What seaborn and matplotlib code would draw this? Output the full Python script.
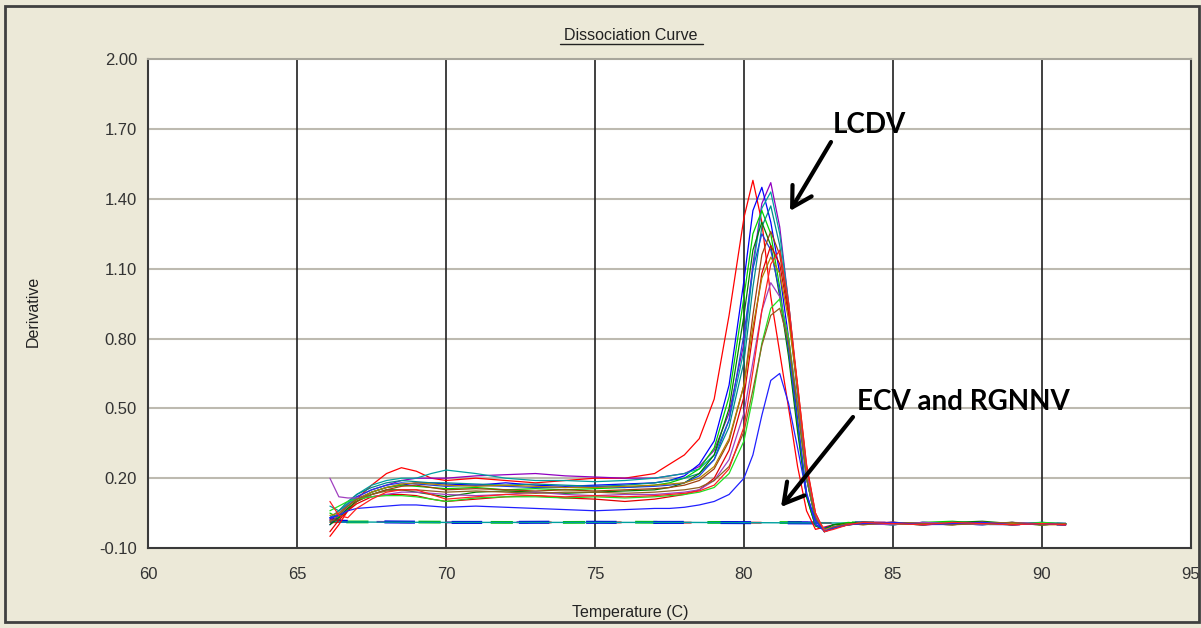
import numpy as np
import pandas as pd
import matplotlib
matplotlib.use("Agg")
import matplotlib.pyplot as plt
from matplotlib.lines import Line2D
from matplotlib.patches import Rectangle
import seaborn as sns

# ---------------- data ----------------
temps = [66.1, 66.4, 66.7, 67.0, 67.5, 68.0, 68.5, 69.0, 69.5, 70.0, 71.0, 72.0, 73.0, 74.0,
         75.0, 76.0, 77.0, 77.5, 78.0, 78.5, 79.0, 79.5, 80.0, 80.3, 80.6, 80.9, 81.2, 81.5,
         81.8, 82.1, 82.4, 82.7, 83.0, 83.5, 84.0, 85.0, 86.0, 87.0, 88.0, 89.0, 90.0, 90.8]

lcdv_red1 = [-0.05, 0.0, 0.06, 0.11, 0.17, 0.22, 0.245, 0.23, 0.2, 0.19, 0.2, 0.19, 0.18, 0.19, 0.2, 0.2, 0.22,
             0.26, 0.3, 0.37, 0.54, 0.9, 1.32, 1.48, 1.3, 0.98, 0.74, 0.5, 0.25, 0.06, -0.02, -0.01, 0.0,
             0.005, 0.01, 0.01, 0.005, 0.0, 0.01, 0.0, 0.005, 0.0]
lcdv_purple1 = [0.02, 0.05, 0.09, 0.12, 0.15, 0.17, 0.19, 0.2, 0.2, 0.2, 0.21, 0.215, 0.22, 0.21, 0.205, 0.2, 0.2,
                0.21, 0.22, 0.25, 0.32, 0.48, 0.78, 1.12, 1.38, 1.47, 1.28, 0.95, 0.58, 0.2, 0.02, -0.025, -0.01,
                0.0, 0.005, 0.01, 0.0, 0.005, 0.01, 0.0, 0.005, 0.0]
lcdv_blue1 = [0.0, 0.04, 0.08, 0.11, 0.14, 0.16, 0.17, 0.18, 0.18, 0.175, 0.17, 0.18, 0.17, 0.165, 0.17, 0.175, 0.18,
              0.19, 0.21, 0.26, 0.36, 0.6, 1.05, 1.35, 1.45, 1.3, 1.08, 0.8, 0.45, 0.13, 0.0, -0.015, 0.0,
              0.005, 0.01, 0.0, 0.01, 0.005, 0.0, 0.01, 0.0, 0.005]
lcdv_teal1 = [0.08, 0.06, 0.09, 0.13, 0.17, 0.19, 0.2, 0.2, 0.22, 0.235, 0.22, 0.2, 0.19, 0.19, 0.185, 0.19, 0.2,
              0.21, 0.22, 0.24, 0.3, 0.45, 0.75, 1.1, 1.36, 1.43, 1.25, 0.95, 0.58, 0.2, 0.02, -0.02, -0.01,
              0.0, 0.005, 0.01, 0.005, 0.0, 0.01, 0.005, 0.0, 0.005]
lcdv_green1 = [0.05, 0.03, 0.07, 0.1, 0.14, 0.16, 0.17, 0.165, 0.16, 0.155, 0.16, 0.15, 0.155, 0.15, 0.155, 0.16, 0.17,
               0.18, 0.2, 0.24, 0.33, 0.55, 0.98, 1.25, 1.35, 1.25, 1.02, 0.74, 0.42, 0.12, -0.005, -0.02, 0.0,
               0.01, 0.005, 0.0, 0.01, 0.015, 0.005, 0.01, 0.0, 0.005]
lcdv_teal2 = [0.03, 0.06, 0.1, 0.13, 0.16, 0.18, 0.19, 0.185, 0.18, 0.18, 0.175, 0.17, 0.175, 0.17, 0.165, 0.17, 0.18,
              0.19, 0.2, 0.22, 0.28, 0.42, 0.7, 1.02, 1.28, 1.37, 1.2, 0.92, 0.56, 0.2, 0.02, -0.02, -0.01,
              0.0, 0.005, 0.0, 0.01, 0.005, 0.0, 0.005, 0.01, 0.0]
lcdv_green2 = [0.0, 0.03, 0.07, 0.1, 0.13, 0.15, 0.15, 0.14, 0.13, 0.12, 0.14, 0.145, 0.14, 0.135, 0.14, 0.145, 0.15,
               0.16, 0.18, 0.22, 0.3, 0.5, 0.9, 1.18, 1.3, 1.2, 0.98, 0.72, 0.4, 0.12, -0.005, -0.02, 0.0,
               0.005, 0.01, 0.005, 0.0, 0.01, 0.015, 0.005, 0.0, 0.005]
lcdv_blue2 = [0.03, 0.04, 0.08, 0.12, 0.15, 0.17, 0.18, 0.175, 0.17, 0.165, 0.17, 0.165, 0.16, 0.16, 0.165, 0.16, 0.165,
              0.17, 0.18, 0.21, 0.28, 0.45, 0.82, 1.1, 1.25, 1.18, 1.0, 0.75, 0.44, 0.14, 0.0, -0.025, -0.01,
              0.0, 0.01, 0.005, 0.0, 0.01, 0.005, 0.0, 0.01, 0.005]
lcdv_brown1 = [0.02, 0.02, 0.06, 0.1, 0.13, 0.15, 0.165, 0.17, 0.16, 0.15, 0.155, 0.15, 0.145, 0.15, 0.145, 0.15, 0.155,
               0.16, 0.17, 0.19, 0.24, 0.36, 0.6, 0.9, 1.16, 1.26, 1.16, 0.92, 0.58, 0.22, 0.03, -0.025, -0.01,
               0.0, 0.005, 0.01, 0.0, 0.005, 0.01, 0.005, 0.0, 0.005]
lcdv_red2 = [-0.03, 0.02, 0.06, 0.09, 0.12, 0.13, 0.13, 0.125, 0.11, 0.1, 0.11, 0.12, 0.125, 0.115, 0.11, 0.1, 0.11,
             0.12, 0.13, 0.15, 0.2, 0.32, 0.55, 0.82, 1.08, 1.2, 1.12, 0.9, 0.6, 0.26, 0.05, -0.03, -0.015,
             0.0, 0.01, 0.005, 0.0, 0.005, 0.01, 0.0, 0.005, 0.0]
lcdv_olive = [0.04, 0.05, 0.08, 0.11, 0.14, 0.16, 0.175, 0.18, 0.175, 0.17, 0.165, 0.17, 0.165, 0.16, 0.16, 0.165, 0.17,
              0.175, 0.18, 0.2, 0.25, 0.37, 0.6, 0.85, 1.06, 1.15, 1.08, 0.88, 0.58, 0.24, 0.04, -0.02, -0.01,
              0.005, 0.0, 0.01, 0.005, 0.0, 0.01, 0.005, 0.0, 0.0]
lcdv_purple2 = [0.2, 0.12, 0.115, 0.115, 0.12, 0.13, 0.14, 0.14, 0.135, 0.13, 0.125, 0.13, 0.14, 0.13, 0.125, 0.13, 0.13,
                0.135, 0.14, 0.15, 0.19, 0.28, 0.48, 0.7, 0.92, 1.04, 0.98, 0.8, 0.52, 0.22, 0.04, -0.025, -0.01,
                0.0, 0.005, 0.0, 0.01, 0.005, 0.0, 0.01, 0.005, 0.0]
lcdv_green3 = [0.06, 0.08, 0.1, 0.11, 0.12, 0.125, 0.125, 0.12, 0.11, 0.1, 0.115, 0.12, 0.12, 0.115, 0.12, 0.115, 0.12,
               0.125, 0.13, 0.14, 0.16, 0.22, 0.36, 0.55, 0.78, 0.93, 0.97, 0.8, 0.5, 0.2, 0.03, -0.03, -0.015,
               0.0, 0.01, 0.005, 0.0, 0.01, 0.005, 0.0, 0.01, 0.005]
lcdv_brown2 = [0.01, 0.04, 0.08, 0.11, 0.13, 0.145, 0.15, 0.15, 0.145, 0.14, 0.145, 0.14, 0.135, 0.14, 0.14, 0.135, 0.14,
               0.145, 0.15, 0.16, 0.19, 0.25, 0.4, 0.58, 0.77, 0.9, 0.93, 0.78, 0.5, 0.2, 0.03, -0.03, -0.01,
               0.005, 0.0, 0.01, 0.005, 0.0, 0.005, 0.01, 0.0, 0.005]
lcdv_blue3 = [0.03, 0.04, 0.06, 0.07, 0.075, 0.08, 0.085, 0.085, 0.08, 0.075, 0.08, 0.075, 0.07, 0.065, 0.06, 0.065, 0.07,
              0.07, 0.075, 0.085, 0.1, 0.13, 0.2, 0.3, 0.47, 0.62, 0.65, 0.52, 0.33, 0.13, 0.02, -0.03, -0.015,
              0.0, 0.005, 0.01, 0.0, 0.005, 0.01, 0.0, 0.005, 0.0]
lcdv_red3 = [0.1, 0.04, 0.03, 0.07, 0.11, 0.14, 0.15, 0.15, 0.13, 0.11, 0.12, 0.13, 0.125, 0.12, 0.125, 0.12, 0.125,
             0.13, 0.135, 0.145, 0.17, 0.24, 0.42, 0.66, 0.92, 1.12, 1.18, 0.95, 0.6, 0.25, 0.05, -0.03, -0.02,
             0.0, 0.01, 0.005, 0.0, 0.01, 0.005, 0.0, 0.005, 0.0]

lcdv_series = [lcdv_red1, lcdv_purple1, lcdv_blue1, lcdv_teal1, lcdv_green1, lcdv_teal2, lcdv_green2,
               lcdv_blue2, lcdv_brown1, lcdv_red2, lcdv_olive, lcdv_purple2, lcdv_green3, lcdv_brown2,
               lcdv_blue3, lcdv_red3]
lcdv_colors = ["#FF0000", "#9000C0", "#0000FF", "#00A0A0", "#00D000", "#008C8C", "#008000",
               "#2040E0", "#A04010", "#E00000", "#B08000", "#A040C0", "#20E020", "#906020",
               "#2020FF", "#FF2020"]

# negative samples (ECV, RGNNV, NTC) - flat traces
flat_temps = [66.1, 66.5, 68.0, 70.0, 72.0, 74.0, 76.0, 78.0, 80.0, 82.0, 84.0, 86.0, 88.0, 90.0, 90.8]
flat_red = [0.01, 0.012, 0.011, 0.011, 0.01, 0.01, 0.01, 0.009, 0.009, 0.008, 0.007, 0.006, 0.005, 0.004, 0.003]
flat_purple = [0.012, 0.013, 0.012, 0.01, 0.011, 0.01, 0.01, 0.011, 0.01, 0.009, 0.007, 0.006, 0.004, 0.003, 0.002]
flat_green = [0.0, 0.012, 0.012, 0.011, 0.01, 0.01, 0.011, 0.01, 0.01, 0.009, 0.008, 0.006, 0.005, 0.004, 0.003]
flat_blue = [0.03, 0.015, 0.012, 0.01, 0.01, 0.011, 0.01, 0.01, 0.009, 0.008, 0.007, 0.005, 0.005, 0.004, 0.002]
flat_teal = [0.015, 0.012, 0.011, 0.01, 0.01, 0.01, 0.01, 0.01, 0.009, 0.008, 0.007, 0.006, 0.005, 0.004, 0.003]
flat_series = [flat_red, flat_purple, flat_green, flat_blue, flat_teal]
flat_colors = ["#D02020", "#9000C0", "#00C000", "#0000E0", "#00A0A0"]

x_ticks = [60, 65, 70, 75, 80, 85, 90, 95]
y_ticks = [-0.10, 0.20, 0.50, 0.80, 1.10, 1.40, 1.70, 2.00]

# ---------------- style ----------------
sns.set_style("white")
plt.rcParams["font.family"] = ["Liberation Sans", "DejaVu Sans"]

BG = "#ECE9D8"
W, H = 1201, 628
fig = plt.figure(figsize=(W / 100, H / 100), dpi=100, facecolor=BG)

left, right, top, bottom = 148.2, 1190.8, 59.3, 548.0
ax = fig.add_axes([left / W, (H - bottom) / H, (right - left) / W, (bottom - top) / H])
ax.set_facecolor("white")

# grid
for yv in y_ticks[1:-1]:
    ax.axhline(yv, color="#BDBAB0", lw=1.5, zorder=1)
for xv in x_ticks[1:-1]:
    ax.axvline(xv, color="#202020", lw=1.2, zorder=1)

# negative traces
flat_styles = [((0, (6, 30)), 1.4), ((12, (6, 30)), 1.4), ((20, (8, 18)), 2.0),
               ((4, (10, 12)), 2.2), ("-", 1.0)]
for vals, col, (ls, lw) in zip(flat_series, flat_colors, flat_styles):
    sns.lineplot(x=flat_temps, y=vals, color=col, lw=lw, ax=ax, zorder=2, linestyle=ls)

# LCDV traces
for vals, col in zip(lcdv_series, lcdv_colors):
    sns.lineplot(x=temps, y=vals, color=col, lw=0.9, ax=ax, zorder=3)

ax.set_xlim(60, 95)
ax.set_ylim(-0.10, 2.00)
ax.set_xticks(x_ticks)
ax.set_xticklabels([str(v) for v in x_ticks])
ax.set_yticks(y_ticks)
ax.set_yticklabels([f"{v:.2f}" for v in y_ticks])
ax.tick_params(axis="both", length=0, labelsize=12, colors="#333333")
ax.tick_params(axis="x", pad=14)
ax.tick_params(axis="y", pad=8)
ax.set_xlabel("")
ax.set_ylabel("")
for side in ["left", "bottom", "right"]:
    ax.spines[side].set_color("#3A3A3A")
    ax.spines[side].set_linewidth(1.5)
ax.spines["top"].set_color("#A8A69C")
ax.spines["top"].set_linewidth(1.5)

# titles / labels
fig.text(631 / W, 1 - 35 / H, "Dissociation Curve", ha="center", va="center",
         fontsize=11.5, color="#222222")
fig.add_artist(Line2D([560 / W, 703 / W], [1 - 44 / H, 1 - 44 / H], color="#222222", lw=1.0))
fig.text(630 / W, 1 - 612 / H, "Temperature (C)", ha="center", va="center",
         fontsize=11.5, color="#222222")
fig.text(33 / W, 1 - 311 / H, "Derivative", ha="center", va="center", rotation=90,
         fontsize=11.5, color="#222222")

# annotations
def px2data(px, py):
    return (60 + (px - left) / ((right - left) / 35.0),
            -0.10 + (bottom - py) / ((bottom - top) / 2.1))

arrow_kw = dict(arrowstyle="->,head_length=0.7,head_width=0.4", color="black", lw=3,
                mutation_scale=20, shrinkA=0, shrinkB=0)
ax.annotate("", xy=px2data(790, 211), xytext=px2data(831, 142), arrowprops=arrow_kw, zorder=5)
ax.text(*px2data(869, 125), "LCDV", ha="center", va="center", fontsize=20,
        fontweight="bold", family=["Lato", "DejaVu Sans"], color="black", zorder=5)
ax.annotate("", xy=px2data(781, 507), xytext=px2data(853, 417), arrowprops=arrow_kw, zorder=5)
ax.text(*px2data(963, 402), "ECV and RGNNV", ha="center", va="center", fontsize=20,
        fontweight="bold", family=["Lato", "DejaVu Sans"], color="black", zorder=5)

# outer frame
fig.add_artist(Rectangle((5 / W, 1 - 622 / H), (1199 - 5) / W, (622 - 6) / H,
                         transform=fig.transFigure, fill=False, edgecolor="#404040", lw=2))

fig.savefig("out.png", dpi=100, facecolor=BG)
